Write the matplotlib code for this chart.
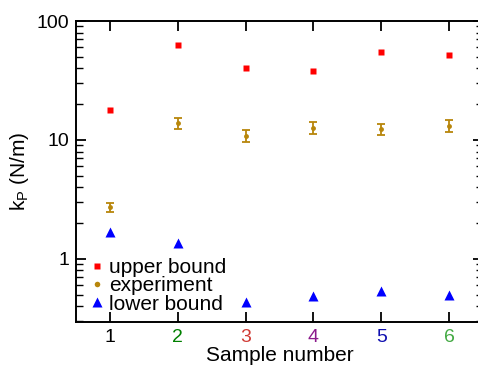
import matplotlib
matplotlib.use("Agg")

import matplotlib.pyplot as plt
from matplotlib.lines import Line2D
from matplotlib.ticker import LogLocator, NullFormatter, FixedLocator
import numpy as np

plt.rcParams["font.family"] = ["Liberation Sans", "DejaVu Sans"]
plt.rcParams["mathtext.default"] = "regular"

# ── Data ──────────────────────────────────────────────────────────────────────
samples = [1, 2, 3, 4, 5, 6]
tick_colors = ["#000000", "#008000", "#d03a34", "#8b1a8b", "#1010b0", "#44aa44"]

upper_bound = [17.8, 62.5, 40.0, 37.8, 55.2, 51.8]
experiment = [2.72, 13.8, 10.8, 12.6, 12.4, 13.1]
exp_err_lo = [0.25, 1.4, 1.1, 1.3, 1.4, 1.4]
exp_err_hi = [0.23, 1.5, 1.25, 1.5, 1.3, 1.5]
lower_bound = [1.68, 1.36, 0.438, 0.489, 0.538, 0.498]

RED = "#ff0000"
GOLD = "#b8860b"
BLUE = "#0000ff"

# ── Figure ────────────────────────────────────────────────────────────────────
fig = plt.figure(figsize=(4.78, 3.70), dpi=100)
ax = fig.add_axes([76 / 478, 1 - 321.7 / 370, 407 / 478, (321.7 - 21) / 370])

h_up, = ax.plot(samples, upper_bound, "s", color=RED, ms=5, mec="none",
                label="upper bound")
ax.errorbar(samples, experiment, yerr=[exp_err_lo, exp_err_hi], fmt="o",
            color=GOLD, ms=3.5, mec="none", elinewidth=1.3, capsize=3,
            capthick=1.3)
h_lo, = ax.plot(samples, lower_bound, "^", color=BLUE, ms=6.5, mec="none",
                label="lower bound")
h_exp = Line2D([], [], ls="none", marker="o", color=GOLD, ms=4, mec="none",
               label="experiment")

ax.set_yscale("log")
ax.set_ylim(0.297, 100)
ax.set_xlim(0.5, 6.5)

ax.xaxis.set_major_locator(FixedLocator(samples))
ax.set_xticklabels([str(s) for s in samples], fontsize=14)
for lbl, c in zip(ax.get_xticklabels(), tick_colors):
    lbl.set_color(c)

ax.yaxis.set_minor_locator(LogLocator(base=10, subs=np.arange(2, 10), numticks=10))
ax.yaxis.set_minor_formatter(NullFormatter())
ax.set_yticks([1, 10, 100])
ax.set_yticklabels(["1", "10", "100"], fontsize=14)

ax.tick_params(axis="both", which="major", direction="in", length=7,
               width=1.3, top=True, right=True, pad=5)
ax.tick_params(axis="y", which="minor", direction="in", length=5,
               width=1.0, right=True)
ax.tick_params(axis="x", which="minor", bottom=False, top=False)
for spine in ax.spines.values():
    spine.set_linewidth(1.4)

ax.set_xlabel("Sample number", fontsize=15, labelpad=0)
ax.set_ylabel("k$_{P}$ (N/m)", fontsize=15, labelpad=4)

ax.legend(handles=[h_up, h_exp, h_lo], loc="lower left",
          bbox_to_anchor=(0.0, -0.022), frameon=False,
          fontsize=15, handlelength=0.6, handletextpad=0.3,
          labelspacing=-0.03, borderpad=0.2)

fig.savefig("out.png", dpi=100)
